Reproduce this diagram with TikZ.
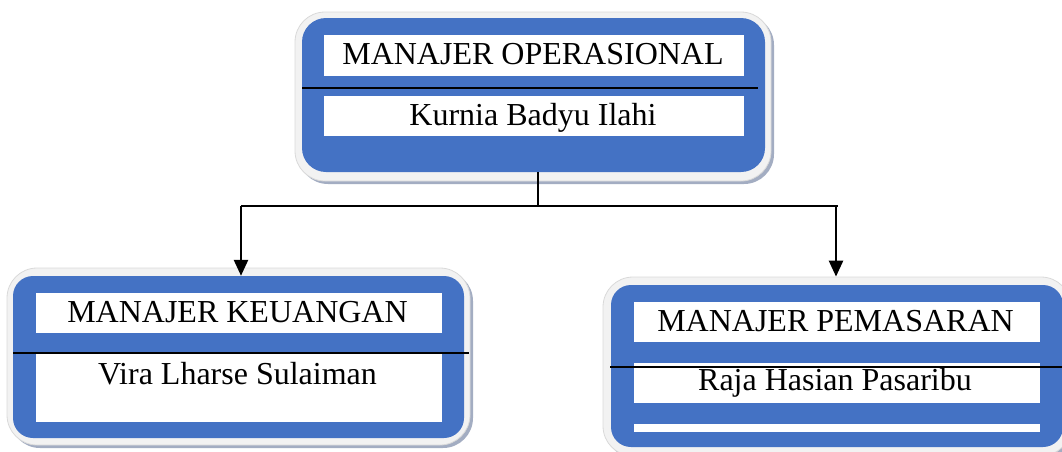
\documentclass[tikz,border=0pt]{standalone}
\usepackage{fontspec}
\setmainfont{Liberation Serif}
\usetikzlibrary{arrows.meta,shadows}
\definecolor{boxblue}{HTML}{4472C4}
\definecolor{rimgray}{HTML}{F2F2F2}
\definecolor{shadowgray}{HTML}{A3ADC2}
\begin{document}
\begin{tikzpicture}[x=1pt,y=-1pt,
  rim/.style={fill=rimgray, draw=gray!30, line width=0.8pt, rounded corners=30pt, inner sep=0pt,
    drop shadow={shadow xshift=3pt, shadow yshift=-3pt, fill=shadowgray, opacity=1}},
  bluebox/.style={fill=boxblue, rounded corners=24pt, inner sep=0pt},
  wbox/.style={fill=white, inner sep=0pt},
  lbl/.style={font=\fontsize{32}{38}\selectfont, inner sep=0pt, anchor=base},
  divider/.style={line width=2.2pt},
  conn/.style={line width=2.6pt},
  arr/.style={conn, -{Triangle[length=16pt,width=14pt]}}]
\useasboundingbox (0,0) rectangle (1062,451);
\clip (0,0) rectangle (1062,451);

% top box
\node[rim, minimum width=476pt, minimum height=169pt] (oprim) at (533,96.5) {};
\node[bluebox, minimum width=463pt, minimum height=154pt] (opbox) at (533.5,95) {};
\node[wbox, minimum width=420pt, minimum height=41pt] (optitle) at (534,55.5) {};
\node[wbox, minimum width=420pt, minimum height=40pt] (opname) at (534,116) {};
\draw[divider] (302,88) -- (758,88);
\node[lbl] (optitletext) at (533,64) {MANAJER OPERASIONAL};
\node[lbl] (opnametext) at (533,125) {Kurnia Badyu Ilahi};

% left box
\node[rim, minimum width=463pt, minimum height=177pt] (kurim) at (238.5,356.5) {};
\node[bluebox, rounded corners=20pt, minimum width=451pt, minimum height=162pt] (kubox) at (238.5,357) {};
\node[wbox, minimum width=406pt, minimum height=40pt] (kutitle) at (239,313) {};
\node[wbox, minimum width=406pt, minimum height=68pt] (kuname) at (239,388) {};
\draw[divider] (13,353) -- (469,353);
\node[lbl] (kutitletext) at (237.5,322) {MANAJER KEUANGAN};
\node[lbl] (kunametext) at (237.5,384) {Vira Lharse Sulaiman};

% right box
\node[rim, minimum width=468pt, minimum height=179pt] (pmrim) at (837,366.5) {};
\node[bluebox, rounded corners=20pt, minimum width=452pt, minimum height=162pt] (pmbox) at (837,366) {};
\node[wbox, minimum width=406pt, minimum height=40pt] (pmtitle) at (837,322) {};
\node[wbox, minimum width=406pt, minimum height=40pt] (pmname) at (837,383) {};
\node[wbox, minimum width=406pt, minimum height=8pt] (pmfoot) at (837,428) {};
\draw[divider] (610,367) -- (1062,367);
\node[lbl] (pmtitletext) at (835.5,331) {MANAJER PEMASARAN};
\node[lbl] (pmnametext) at (835,390.5) {Raja Hasian Pasaribu};

% connectors
\coordinate (split) at (538,206);
\coordinate (hl) at (241,206);
\coordinate (hr) at (838,206);
\coordinate (hra) at (836,206);
\draw[conn] (opbox.south -| split) -- (split);
\draw[conn] (hl) -- (hr);
\draw[arr] (hl) -- (hl |- kubox.north);
\draw[arr] (hra) -- (hra |- pmrim.north);
\end{tikzpicture}
\end{document}
